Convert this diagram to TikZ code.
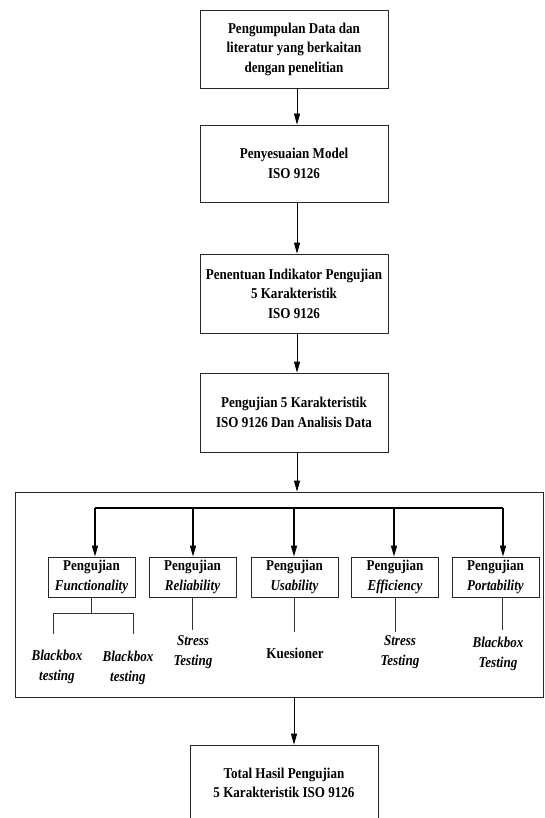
\documentclass[tikz,border=0pt]{standalone}
\usepackage{fontspec}
\setmainfont{Liberation Serif}[FakeStretch=0.87]
\usetikzlibrary{arrows.meta}
\begin{document}
\begin{tikzpicture}[x=1pt,y=-1pt,
  mainbox/.style={draw=black!85, line width=0.8pt, minimum width=188pt, align=center,
    font=\fontsize{15}{19.5}\selectfont\bfseries, inner sep=0pt},
  smallbox/.style={draw=black!85, line width=0.8pt, minimum width=87pt, minimum height=40pt,
    align=center, font=\fontsize{15}{20}\selectfont\bfseries, inner sep=0pt},
  lbl/.style={align=center, font=\fontsize{15}{20}\selectfont\bfseries\itshape, inner sep=0pt},
  arr/.style={-{Triangle[length=11pt,width=6pt]}, line width=0.8pt},
  bus/.style={line width=1.4pt},
  thinline/.style={line width=0.7pt, black!80}]

\useasboundingbox (0,0) rectangle (544,818);

% main column
\node[mainbox, minimum height=78pt] (b1) at (294,49)
  {Pengumpulan Data dan\\literatur yang  berkaitan\\dengan penelitian};
\node[mainbox, minimum height=77pt] (b2) at (294,163.5)
  {Penyesuaian Model\\ISO 9126};
\node[mainbox, minimum height=79pt] (b3) at (294,293.5)
  {Penentuan Indikator Pengujian\\5 Karakteristik\\ISO 9126};
\node[mainbox, minimum height=79pt] (b4) at (294,412.5)
  {Pengujian 5 Karakteristik\\ISO 9126 Dan Analisis Data};

\coordinate (col) at (297,0);
\draw[arr] (col |- b1.south) -- (col |- b2.north);
\draw[arr] (col |- b2.south) -- (col |- b3.north);
\draw[arr] (col |- b3.south) -- (col |- b4.north);

% frame
\node[draw=black!85, line width=0.8pt, minimum width=528pt, minimum height=205pt, inner sep=0pt]
  (frame) at (279,594.5) {};
\draw[arr] (col |- b4.south) -- (col |- frame.north);

% small boxes
\node[smallbox] (s1) at (91.5,577) {Pengujian\\\textit{Functionality}};
\node[smallbox] (s2) at (192.5,577) {Pengujian\\\textit{Reliability}};
\node[smallbox] (s3) at (294.5,577) {Pengujian\\\textit{Usability}};
\node[smallbox] (s4) at (395,577) {Pengujian\\\textit{Efficiency}};
\node[smallbox] (s5) at (495.5,577) {Pengujian\\\textit{Portability}};

% bus
\coordinate (k1) at (95,508);
\coordinate (k2) at (193,508);
\coordinate (k3) at (294,508);
\coordinate (k4) at (394,508);
\coordinate (k5) at (503,508);
\draw[bus] (k1) -- (k5);
\foreach \i in {1,...,5}{
  \draw[arr, bus] (k\i) -- (k\i |- s\i.north);
}

% lines below small boxes
\coordinate (fl) at (53,613);
\coordinate (fr) at (133,613);
\coordinate (flb) at (53,634);
\coordinate (frb) at (133,634);
\draw[thinline] (s1.south) -- (s1.south |- fl);
\draw[thinline] (flb) -- (fl) -- (fr) -- (frb);
\draw[thinline] (s2.south) -- ++(0,33);
\draw[thinline] (s3.south) -- ++(0,35);
\draw[thinline] (s4.south) -- ++(0,35);
\coordinate (e5) at (502,630);
\draw[thinline] (e5 |- s5.south) -- (e5);

% labels
\node[lbl] (t1a) at (57,667) {Blackbox\\testing};
\node[lbl] (t1b) at (128,668) {Blackbox\\testing};
\node[lbl] (t2) at (193,652) {Stress\\Testing};
\node[lbl, font=\fontsize{15}{20}\selectfont\bfseries] (t3) at (295,653) {Kuesioner};
\node[lbl] (t4) at (400,652) {Stress\\Testing};
\node[lbl] (t5) at (498,654) {Blackbox\\Testing};

% final box
\node[mainbox, minimum height=76pt] (fin) at (284,783)
  {Total Hasil Pengujian\\5 Karakteristik ISO 9126};
\coordinate (fa) at (294,0);
\draw[arr] (fa |- frame.south) -- (fa |- fin.north);
\end{tikzpicture}
\end{document}
